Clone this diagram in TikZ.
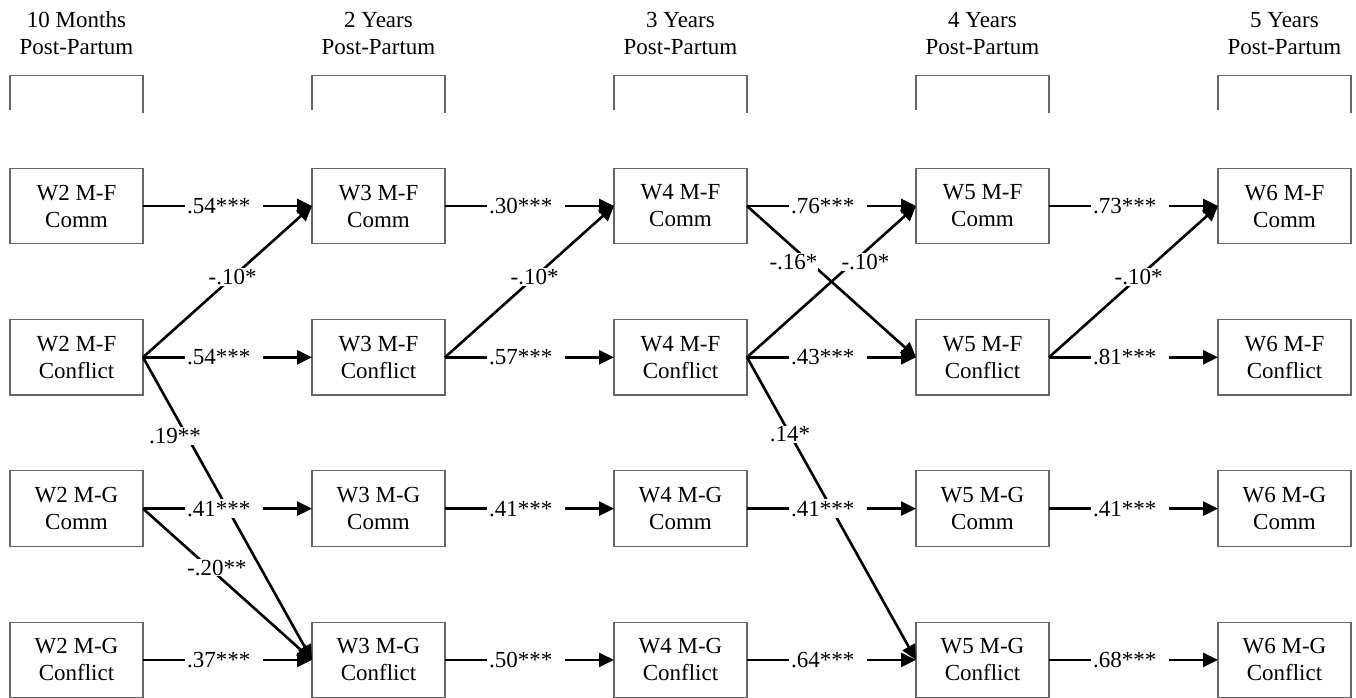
\documentclass[tikz,border=0pt]{standalone}
\usepackage{fontspec}
\setmainfont{Liberation Serif}
\usetikzlibrary{positioning,arrows.meta}

\begin{document}
\begin{tikzpicture}[x=1pt, y=1pt,
    var/.style = {draw=black!60, line width=1.2pt, minimum width=133pt, minimum height=75.5pt, inner sep=0pt, outer sep=0pt, align=center},
    hdr/.style = {align=center, inner sep=0pt},
    brk/.style = {draw=black!60, line width=1.2pt},
    arr/.style = {-{Triangle[length=15pt, width=14pt]}, line width=2.6pt},
    hlab/.style = {fill=white, inner sep=2pt, text width=74pt, align=left},
    dlab/.style = {fill=white, inner sep=1pt},
    node distance={75.8pt and 169pt},
    font=\fontsize{23}{27}\selectfont]
    \useasboundingbox (0,0) rectangle (1356,-698);
    % wave 2
    \node[var] (w2a) at (76.5,-206) {W2 M-F\\Comm};
    \node[var] (w2b) [below=of w2a] {W2 M-F\\Conflict};
    \node[var] (w2c) [below=of w2b] {W2 M-G\\Comm};
    \node[var] (w2d) [below=of w2c] {W2 M-G\\Conflict};
    % wave 3
    \node[var] (w3a) [right=of w2a] {W3 M-F\\Comm};
    \node[var] (w3b) [right=of w2b] {W3 M-F\\Conflict};
    \node[var] (w3c) [right=of w2c] {W3 M-G\\Comm};
    \node[var] (w3d) [right=of w2d] {W3 M-G\\Conflict};
    % wave 4
    \node[var] (w4a) [right=of w3a] {W4 M-F\\Comm};
    \node[var] (w4b) [right=of w3b] {W4 M-F\\Conflict};
    \node[var] (w4c) [right=of w3c] {W4 M-G\\Comm};
    \node[var] (w4d) [right=of w3d] {W4 M-G\\Conflict};
    % wave 5
    \node[var] (w5a) [right=of w4a] {W5 M-F\\Comm};
    \node[var] (w5b) [right=of w4b] {W5 M-F\\Conflict};
    \node[var] (w5c) [right=of w4c] {W5 M-G\\Comm};
    \node[var] (w5d) [right=of w4d] {W5 M-G\\Conflict};
    % wave 6
    \node[var] (w6a) [right=of w5a] {W6 M-F\\Comm};
    \node[var] (w6b) [right=of w5b] {W6 M-F\\Conflict};
    \node[var] (w6c) [right=of w5c] {W6 M-G\\Comm};
    \node[var] (w6d) [right=of w5d] {W6 M-G\\Conflict};

    % time points
    \node[hdr] (h2) [above=113.3pt of w2a] {10 Months\\Post-Partum};
    \node[hdr] (h3) [above=113.3pt of w3a] {2 Years\\Post-Partum};
    \node[hdr] (h4) [above=113.3pt of w4a] {3 Years\\Post-Partum};
    \node[hdr] (h5) [above=113.3pt of w5a] {4 Years\\Post-Partum};
    \node[hdr] (h6) [above=113.3pt of w6a] {5 Years\\Post-Partum};
    \draw[brk] ([yshift=58pt]w2a.north west) -- ([yshift=93pt]w2a.north west) -- ([yshift=93pt]w2a.north east) -- ([yshift=55pt]w2a.north east);
    \draw[brk] ([yshift=58pt]w3a.north west) -- ([yshift=93pt]w3a.north west) -- ([yshift=93pt]w3a.north east) -- ([yshift=55pt]w3a.north east);
    \draw[brk] ([yshift=58pt]w4a.north west) -- ([yshift=93pt]w4a.north west) -- ([yshift=93pt]w4a.north east) -- ([yshift=55pt]w4a.north east);
    \draw[brk] ([yshift=58pt]w5a.north west) -- ([yshift=93pt]w5a.north west) -- ([yshift=93pt]w5a.north east) -- ([yshift=55pt]w5a.north east);
    \draw[brk] ([yshift=58pt]w6a.north west) -- ([yshift=93pt]w6a.north west) -- ([yshift=93pt]w6a.north east) -- ([yshift=55pt]w6a.north east);

    % cross-lagged paths
    \draw[arr] (w2b.east) -- node[dlab, pos=0.53] {-.10*} (w3a.west);
    \draw[arr] (w2b.east) -- node[dlab, pos=0.26, xshift=-12pt] {.19**} (w3d.west);
    \draw[arr] (w2c.east) -- node[dlab, pos=0.39, xshift=8pt] {-.20**} (w3d.west);
    \draw[arr] (w3b.east) -- node[dlab, pos=0.53] {-.10*} (w4a.west);
    \draw[arr] (w4a.east) -- node[dlab, pos=0.37, xshift=-16pt] {-.16*} (w5b.west);
    \draw[arr] (w4b.east) -- node[dlab, pos=0.63, xshift=12pt] {-.10*} (w5a.west);
    \draw[arr] (w4b.east) -- node[dlab, pos=0.255] {.14*} (w5d.west);
    \draw[arr] (w5b.east) -- node[dlab, pos=0.53] {-.10*} (w6a.west);

    % stability paths
    \draw[arr] (w2a) -- node[hlab, pos=0.48] {.54***} (w3a);
    \draw[arr] (w3a) -- node[hlab, pos=0.48] {.30***} (w4a);
    \draw[arr] (w4a) -- node[hlab, pos=0.48] {.76***} (w5a);
    \draw[arr] (w5a) -- node[hlab, pos=0.48] {.73***} (w6a);
    \draw[arr] (w2b) -- node[hlab, pos=0.48] {.54***} (w3b);
    \draw[arr] (w3b) -- node[hlab, pos=0.48] {.57***} (w4b);
    \draw[arr] (w4b) -- node[hlab, pos=0.48] {.43***} (w5b);
    \draw[arr] (w5b) -- node[hlab, pos=0.48] {.81***} (w6b);
    \draw[arr] (w2c) -- node[hlab, pos=0.48] {.41***} (w3c);
    \draw[arr] (w3c) -- node[hlab, pos=0.48] {.41***} (w4c);
    \draw[arr] (w4c) -- node[hlab, pos=0.48] {.41***} (w5c);
    \draw[arr] (w5c) -- node[hlab, pos=0.48] {.41***} (w6c);
    \draw[arr] (w2d) -- node[hlab, pos=0.48] {.37***} (w3d);
    \draw[arr] (w3d) -- node[hlab, pos=0.48] {.50***} (w4d);
    \draw[arr] (w4d) -- node[hlab, pos=0.48] {.64***} (w5d);
    \draw[arr] (w5d) -- node[hlab, pos=0.48] {.68***} (w6d);
\end{tikzpicture}
\end{document}
